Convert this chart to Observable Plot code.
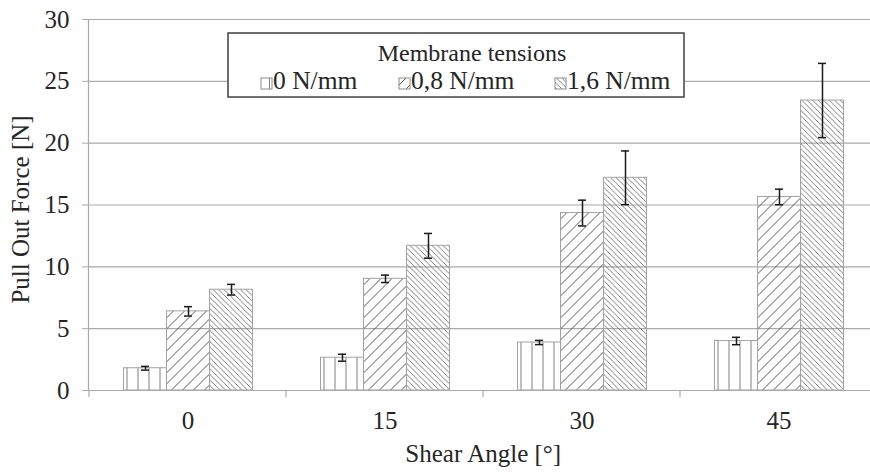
<!DOCTYPE html>
<html>
<head>
<meta charset="utf-8">
<script src="https://cdn.jsdelivr.net/npm/d3@7"></script>
<script src="https://cdn.jsdelivr.net/npm/@observablehq/plot@0.6"></script>
<style>
  html, body { margin: 0; padding: 0; background: white; overflow: hidden; }
  #chart svg { display: block; }
  #chart svg text { font-family: 'Liberation Serif', 'Times New Roman', serif !important; }
</style>
</head>
<body>
<div id="chart"></div>
<script>
// ---- data ----
const angles = ["0", "15", "30", "45"];
const tensions = ["0 N/mm", "0,8 N/mm", "1,6 N/mm"];
const force0  = [1.8, 2.65, 3.88, 4.0];
const force08 = [6.4, 9.03, 14.35, 15.65];
const force16 = [8.15, 11.7, 17.2, 23.45];
const err0  = [0.15, 0.28, 0.17, 0.3];
const err08 = [0.38, 0.3, 1.04, 0.63];
const err16 = [0.43, 1.0, 2.17, 3.0];
const yTicks = [0, 5, 10, 15, 20, 25, 30];
const gridTicks = [5, 10, 15, 20, 25, 30];
const legendTitle = "Membrane tensions";
const xTitle = "Shear Angle [°]";
const yTitle = "Pull Out Force [N]";

const forces = [force0, force08, force16];
const errs = [err0, err08, err16];
const patterns = ["url(#pat0)", "url(#pat1)", "url(#pat2)"];
const rows = tensions.flatMap((t, i) =>
  angles.map((a, j) => ({angle: a, tension: t, v: forces[i][j], e: errs[i][j]})));

const serif = "'Liberation Serif', 'Times New Roman', serif";
const gridColor = "#aaaaaa";
const textColor = "#262626";

const barMarks = tensions.map((t, i) =>
  Plot.barY(rows.filter(d => d.tension === t), {
    fx: "angle", x: "tension", y1: 0, y2: "v",
    fill: patterns[i], stroke: "#a3a3a3", strokeWidth: 1
  }));

const chart = Plot.plot({
  width: 870,
  height: 472,
  marginLeft: 88.5,
  marginRight: -8,
  marginTop: 19,
  marginBottom: 82,
  style: {fontFamily: serif, fontSize: "25px", background: "white", color: textColor},
  fx: {domain: angles, padding: 0, label: null},
  x: {domain: tensions, paddingInner: 0, paddingOuter: 0.744, axis: null},
  y: {domain: [0, 30], axis: null},
  marks: [
    Plot.gridY(gridTicks, {stroke: gridColor, strokeOpacity: 1, strokeWidth: 1.2}),
    ...barMarks,
    Plot.ruleY([0], {stroke: gridColor, strokeWidth: 1.2}),
    Plot.ruleX(rows, {fx: "angle", x: "tension", y1: d => d.v - d.e, y2: d => d.v + d.e, stroke: "#1a1a1a", strokeWidth: 1.5}),
    Plot.tickY(rows, {fx: "angle", x: "tension", y: d => d.v - d.e, stroke: "#1a1a1a", strokeWidth: 1.5, insetLeft: 17.5, insetRight: 17.5}),
    Plot.tickY(rows, {fx: "angle", x: "tension", y: d => d.v + d.e, stroke: "#1a1a1a", strokeWidth: 1.5, insetLeft: 17.5, insetRight: 17.5}),
    Plot.axisY({ticks: yTicks, tickSize: 7, tickPadding: 13, stroke: gridColor, fill: textColor, fontFamily: serif, label: null}),
    Plot.axisFx({anchor: "bottom", tickSize: 0, tickPadding: 21, fill: textColor, fontFamily: serif, label: null})
  ]
});

// pattern definitions
const defs = d3.create("svg:defs");
function addPattern(id, size, d, color, width) {
  const p = defs.append("pattern").attr("id", id).attr("patternUnits", "userSpaceOnUse")
    .attr("width", size).attr("height", size);
  p.append("path").attr("d", d).attr("stroke", color).attr("stroke-width", width).attr("fill", "none");
}
addPattern("pat0", 11, "M5.5,0V11", "#808080", 1);
addPattern("pat1", 11, "M0,11L11,0M-2.75,2.75L2.75,-2.75M8.25,13.75L13.75,8.25", "#5a5a5a", 1);
addPattern("pat2", 5.5, "M0,0L5.5,5.5M-1.4,4.1L1.4,6.9M4.1,-1.4L6.9,1.4", "#707070", 0.9);
chart.insertBefore(defs.node(), chart.firstChild);

const svg = d3.select(chart);
const fx = chart.scale("fx");
const ys = chart.scale("y");
const x0 = fx.range[0], x1 = fx.range[1];
const yBottom = ys.apply(0), yTop = ys.apply(30);

// axis line and category separator ticks
const ax = svg.append("g").attr("stroke", gridColor).attr("stroke-width", 1.2);
ax.append("line").attr("x1", x0).attr("x2", x0).attr("y1", yTop).attr("y2", yBottom);
[...angles.map(a => fx.apply(a)), x1].forEach(xv => {
  ax.append("line").attr("x1", xv).attr("x2", xv).attr("y1", yBottom).attr("y2", yBottom + 7);
});

// axis titles
svg.append("text").attr("x", (x0 + x1) / 2).attr("y", 462).attr("text-anchor", "middle")
  .attr("font-family", serif).attr("fill", textColor).text(xTitle);
svg.append("text").attr("transform", `translate(29,${(yTop + yBottom) / 2 + 5}) rotate(-90)`)
  .attr("text-anchor", "middle").attr("font-family", serif).attr("fill", textColor).text(yTitle);

// legend
const lg = svg.append("g").attr("font-family", serif).attr("fill", textColor);
lg.append("rect").attr("x", 228).attr("y", 33).attr("width", 456).attr("height", 64)
  .attr("fill", "white").attr("stroke", "#404040").attr("stroke-width", 1.5);
lg.append("text").attr("x", 472).attr("y", 61).attr("font-size", 24).attr("text-anchor", "middle").text(legendTitle);
const legendX = [261, 399, 555];
tensions.forEach((t, i) => {
  lg.append("rect").attr("x", legendX[i]).attr("y", 78).attr("width", 11).attr("height", 11)
    .attr("fill", patterns[i]).attr("stroke", "#8c8c8c").attr("stroke-width", 1);
  lg.append("text").attr("x", legendX[i] + 12).attr("y", 89).attr("font-size", 25.5)
    .attr("text-anchor", "start").text(t);
});

document.getElementById("chart").appendChild(chart);
</script>
</body>
</html>
